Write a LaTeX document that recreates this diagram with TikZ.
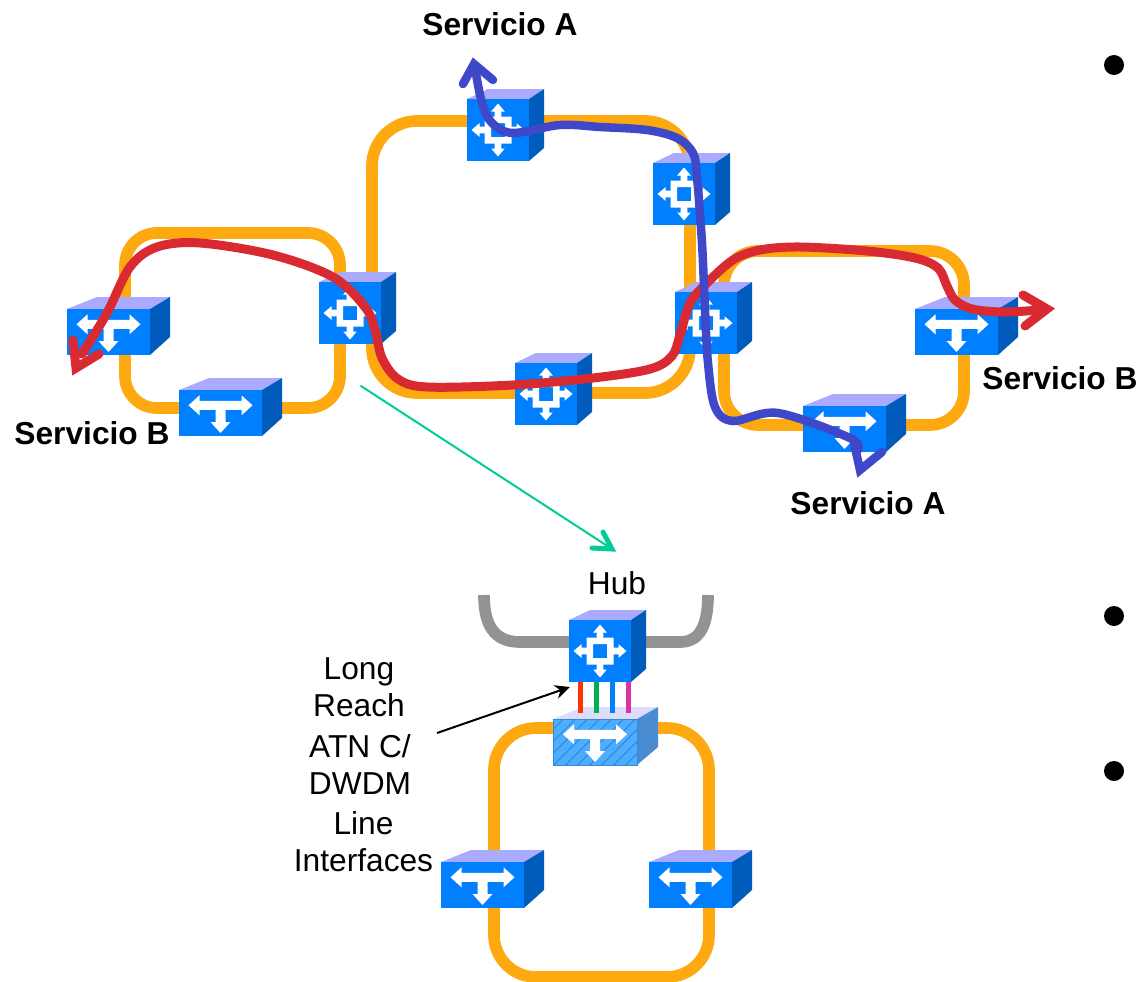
\documentclass[tikz,border=0pt]{standalone}
\usepackage{fontspec}
\setmainfont{Liberation Sans}
\usetikzlibrary{patterns.meta,arrows.meta}
\begin{document}
\begin{tikzpicture}[
        x=1pt, y=-1pt,
        ring/.style={draw=ringorange, line width=11.7pt},
        servicered/.style={draw=pathred, line width=9pt, line cap=round, line join=miter, miter limit=10},
        serviceblue/.style={draw=pathblue, line width=8.5pt, line cap=round, line join=miter, miter limit=10},
        label/.style={font=\fontsize{31.7}{37}\selectfont, inner sep=0pt, align=center},
        boldlabel/.style={font=\fontsize{31.7}{37}\selectfont\bfseries, inner sep=0pt},
        bullet/.style={circle, fill=black, minimum size=20pt, inner sep=0pt},
        fiber/.style={line width=5pt},
        routericon/.pic={
            \fill[white, even odd rule] (-13.5,-13.5) rectangle (13.5,13.5) (-7,-7) rectangle (7,7);
            \foreach \a in {0,90,180,270}
                \fill[white, rotate=\a] (13,-3.3) -- (18.5,-3.3) -- (18.5,-6.8) -- (26.5,0) -- (18.5,6.8) -- (18.5,3.3) -- (13,3.3) -- cycle;
        },
        switchicon/.pic={
            \fill[white] (-32,-7.7) -- (-21,-17.7) -- (-21,-12.2) -- (21,-12.2) -- (21,-17.7) -- (32,-7.7)
                -- (21,2.3) -- (21,-3.2) -- (5,-3.2) -- (5,9) -- (10,9) -- (0,20) -- (-10,9) -- (-5,9)
                -- (-5,-3.2) -- (-21,-3.2) -- (-21,2.3) -- cycle;
        },
        routercube/.pic={
            \fill[cubetop] (0,0) -- (21,-10) -- (77,-10) -- (62,0) -- cycle;
            \fill[cubeside] (62,0) -- (77,-10) -- (77,49) -- (62,62) -- cycle;
            \fill[cubeface] (0,0) rectangle (62,62);
            \pic at (31,31) {routericon};
        },
        switchcube/.pic={
            \fill[cubetop] (0,0) -- (30,-12) -- (103,-12) -- (83,0) -- cycle;
            \fill[cubeside] (83,0) -- (103,-12) -- (103,28) -- (83,46) -- cycle;
            \fill[cubeface] (0,0) rectangle (83,46);
            \pic at (41.5,23) {switchicon};
        },
        hatchcube/.pic={
            \fill[hatchtop] (0,0) -- (30,-12) -- (105,-12) -- (84,0) -- cycle;
            \fill[hatchside] (84,0) -- (105,-12) -- (105,28) -- (84,46) -- cycle;
            \fill[hatchface] (0,0) rectangle (84,46);
            \path[pattern={Lines[angle=45,distance=8.5pt,line width=1pt]}, pattern color=hatchline] (0,0) rectangle (84,46);
            \draw[hatchline, line width=0.7pt] (0,0) rectangle (84,46);
            \pic at (42,23) {switchicon};
        }
    ]
    \definecolor{ringorange}{HTML}{FDA90F}
    \definecolor{pathred}{HTML}{D92A32}
    \definecolor{pathblue}{HTML}{3F48C8}
    \definecolor{cubetop}{HTML}{AAAAFF}
    \definecolor{cubeside}{HTML}{005BBB}
    \definecolor{cubeface}{HTML}{0080FF}
    \definecolor{hatchtop}{HTML}{DDDDFA}
    \definecolor{hatchside}{HTML}{4A8CD2}
    \definecolor{hatchface}{HTML}{4DADFF}
    \definecolor{hatchline}{HTML}{3388DD}
    \definecolor{detailgreen}{HTML}{00CC99}

    \useasboundingbox (0,0) rectangle (1138,982);

    % rings
    \draw[ring, rounded corners=32pt] (125,233) rectangle (340,408);
    \draw[ring, rounded corners=45pt] (372,121) rectangle (690,393);
    \draw[ring, rounded corners=34pt] (724,251) rectangle (964,425);
    \draw[ring, rounded corners=42pt] (494,728) rectangle (709,977);
    \draw[draw=gray!85, line width=11.7pt] (484,595) .. controls (484,625) and (494,642) .. (520,642) -- (680,642) .. controls (700,642) and (708,625) .. (708,595);

    % cubes
    \pic (r1) at (467,99) {routercube};
    \pic (r2) at (653,163) {routercube};
    \pic (r3) at (319,282) {routercube};
    \pic (r4) at (675,292) {routercube};
    \pic (r5) at (515,363) {routercube};
    \pic (s1) at (67,309) {switchcube};
    \pic (s2) at (179,390) {switchcube};
    \pic (s3) at (915,309) {switchcube};
    \pic (s4) at (803,406) {switchcube};
    \pic (hatch) at (553,719) {hatchcube};
    \pic (s5) at (441,862) {switchcube};
    \pic (s6) at (649,862) {switchcube};
    \pic (hub) at (569,620) {routercube};

    % fibers
    \definecolor{fiberred}{HTML}{FF3300}
    \definecolor{fibergreen}{HTML}{00B050}
    \definecolor{fiberpink}{HTML}{D834A8}
    \draw[fiber, draw=fiberred] (580,682) -- (580,713);
    \draw[fiber, draw=fibergreen] (596,682) -- (596,713);
    \draw[fiber, draw=cubeface] (612,682) -- (612,713);
    \draw[fiber, draw=fiberpink] (628,682) -- (628,713);

    % service paths
    \draw[servicered] plot[smooth, tension=0.55] coordinates {(82,354) (107,313) (130,267) (157,247) (200,243) (273,255) (333,277) (365,307) (375,330) (382,358) (398,379) (427,387) (513,385) (593,378) (650,369) (672,356) (680,335) (690,303) (707,283) (733,260) (760,250) (800,247) (867,251) (915,258) (938,268) (947,286) (955,300) (972,309) (1003,312) (1040,310)};
    \draw[servicered] (73,340) -- (76,368) -- (99,354);
    \draw[servicered] (1023,295) -- (1047,309) -- (1025,326);
    \draw[serviceblue] plot[smooth, tension=0.55] coordinates {(475,68) (482,103) (492,123) (513,133) (560,125) (600,127) (647,130) (677,138) (693,153) (697,177) (702,243) (705,310) (708,363) (715,407) (733,421) (778,413) (850,438) (858,450)};
    \draw[serviceblue] (463,84) -- (474,64) -- (493,80);
    \draw[serviceblue] (854,443) -- (860,470) -- (882,452);

    % arrows
    \coordinate (detailfrom) at (361,386);
    \coordinate (detailto) at (612,549);
    \draw[draw=detailgreen, line width=2pt, line cap=round] (detailfrom) -- (detailto);
    \draw[draw=detailgreen, line width=5pt, line cap=round, miter limit=10] (592,548) -- (detailto) -- (603,532);
    \coordinate (lrfrom) at (437,733);
    \coordinate (lrto) at (570,687);
    \draw[-{Stealth[length=15pt,width=14pt]}, line width=2pt] (lrfrom) -- (lrto);

    % labels
    \node[boldlabel] (servA1) at (500,24) {Servicio A};
    \node[boldlabel] (servB1) at (92,433) {Servicio B};
    \node[boldlabel] (servB2) at (1060,378) {Servicio B};
    \node[boldlabel] (servA2) at (868,503) {Servicio A};
    \node[label] (hublabel) at (617,583) {Hub};
    \node[label] (longreach) at (359,687) {Long\\Reach};
    \node[label] (atn) at (360,765) {ATN C/\\DWDM};
    \node[label] (lineif) at (363.5,842) {Line~\\Interfaces};

    % bullets
    \node[bullet] (b1) at (1114,65) {};
    \node[bullet] (b2) at (1114,616) {};
    \node[bullet] (b3) at (1114,771) {};

\end{tikzpicture}
\end{document}
